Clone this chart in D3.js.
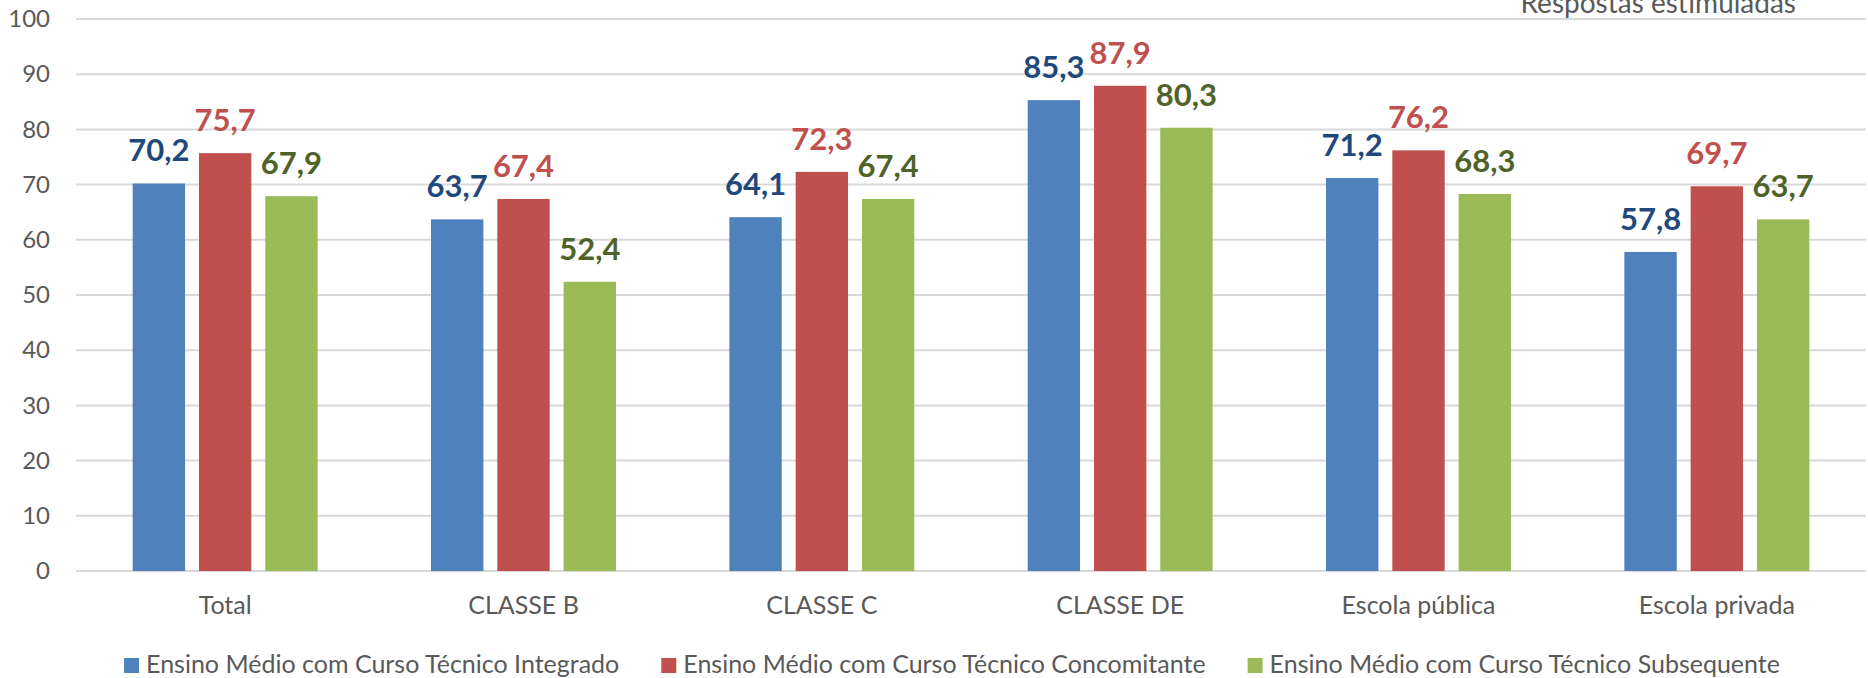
<!DOCTYPE html>
<html>
<head>
<meta charset="utf-8">
<script src="https://cdn.jsdelivr.net/npm/d3@7"></script>
<style>
	body { margin: 0; background: #fff; }
	svg text { font-family: Lato, "Open Sans", sans-serif; }
</style>
</head>
<body>
<svg id="chart"></svg>
<script>
const categories = ['Total', 'CLASSE B', 'CLASSE C', 'CLASSE DE', 'Escola pública', 'Escola privada'];
const series = [
	'Ensino Médio com Curso Técnico Integrado',
	'Ensino Médio com Curso Técnico Concomitante',
	'Ensino Médio com Curso Técnico Subsequente'
];
const integrado = [70.2, 63.7, 64.1, 85.3, 71.2, 57.8];
const concomitante = [75.7, 67.4, 72.3, 87.9, 76.2, 69.7];
const subsequente = [67.9, 52.4, 67.4, 80.3, 68.3, 63.7];
const yTicks = [0, 10, 20, 30, 40, 50, 60, 70, 80, 90, 100];
const subtitle = 'Respostas estimuladas';

const bar_colors = ['#4F81BD', '#C0504D', '#9BBB59'];
const label_colors = ['#1F497D', '#C0504D', '#4F6228'];

const width = 1868, height = 678;
const margin = {top: 19, right: 2, bottom: 107, left: 76};

const svg = d3.select('#chart').attr('width', width).attr('height', height);

const values = [integrado, concomitante, subsequente];
const rows = categories.map((c, i) => ({
	cat: c,
	vals: series.map((s, j) => ({s: s, j: j, v: values[j][i]}))
}));

const x0 = d3.scaleBand()
	.domain(categories)
	.range([margin.left, width - margin.right])
	.paddingInner(0.38)
	.paddingOuter(0.19);

const x1 = d3.scaleBand()
	.domain(series)
	.range([0, x0.bandwidth()])
	.paddingInner(0.21);

const y = d3.scaleLinear()
	.domain([0, 100])
	.range([height - margin.bottom, margin.top]);

// gridlines
svg.append('g')
	.selectAll('line')
	.data(yTicks)
	.join('line')
	.attr('x1', margin.left)
	.attr('x2', width - margin.right)
	.attr('y1', d => y(d))
	.attr('y2', d => y(d))
	.attr('stroke', '#D9D9D9')
	.attr('stroke-width', 2);

// y axis labels
const yAxis = svg.append('g')
	.attr('transform', `translate(${margin.left},0)`)
	.call(d3.axisLeft(y).tickValues(yTicks).tickSize(0).tickPadding(26));
yAxis.select('.domain').remove();
yAxis.selectAll('text')
	.attr('fill', '#595959')
	.style('font-size', '24px')
	.style('font-family', 'Lato, sans-serif');

// x axis labels
const xAxis = svg.append('g')
	.attr('transform', `translate(0,${height - margin.bottom})`)
	.call(d3.axisBottom(x0).tickSize(0).tickPadding(25));
xAxis.select('.domain').remove();
xAxis.selectAll('text')
	.attr('fill', '#595959')
	.style('font-size', '25px')
	.style('font-family', 'Lato, sans-serif');

// bars
const groups = svg.append('g')
	.selectAll('g')
	.data(rows)
	.join('g')
	.attr('transform', d => `translate(${x0(d.cat)},0)`);

groups.selectAll('rect')
	.data(d => d.vals)
	.join('rect')
	.attr('x', d => x1(d.s))
	.attr('width', x1.bandwidth())
	.attr('y', d => y(d.v))
	.attr('height', d => y(0) - y(d.v))
	.attr('fill', d => bar_colors[d.j]);

groups.selectAll('text')
	.data(d => d.vals)
	.join('text')
	.attr('x', d => x1(d.s) + x1.bandwidth() / 2)
	.attr('y', d => y(d.v) - 22)
	.attr('text-anchor', 'middle')
	.attr('fill', d => label_colors[d.j])
	.style('font-size', '31px')
	.style('font-weight', 'bold')
	.text(d => d3.format('.1f')(d.v).replace('.', ','));

// subtitle, cut at the top like the original
svg.append('text')
	.attr('x', 1796)
	.attr('y', 13)
	.attr('text-anchor', 'end')
	.attr('fill', '#595959')
	.style('font-size', '28px')
	.text(subtitle);

// legend
const legend = svg.append('g');
const items = legend.selectAll('g')
	.data(series)
	.join('g');
items.append('rect')
	.attr('width', 15)
	.attr('height', 15)
	.attr('y', -15)
	.attr('fill', (d, i) => bar_colors[i]);
items.append('text')
	.attr('x', 22)
	.attr('fill', '#595959')
	.style('font-size', '25px')
	.text(d => d);

const item_gap = 42;
let pos = 0;
const offsets = [];
items.each(function() {
	offsets.push(pos);
	pos += this.getBBox().width + item_gap;
});
const total = pos - item_gap;
const start = 952 - total / 2;
items.attr('transform', (d, i) => `translate(${start + offsets[i]},${height - 5})`);
</script>
</body>
</html>
